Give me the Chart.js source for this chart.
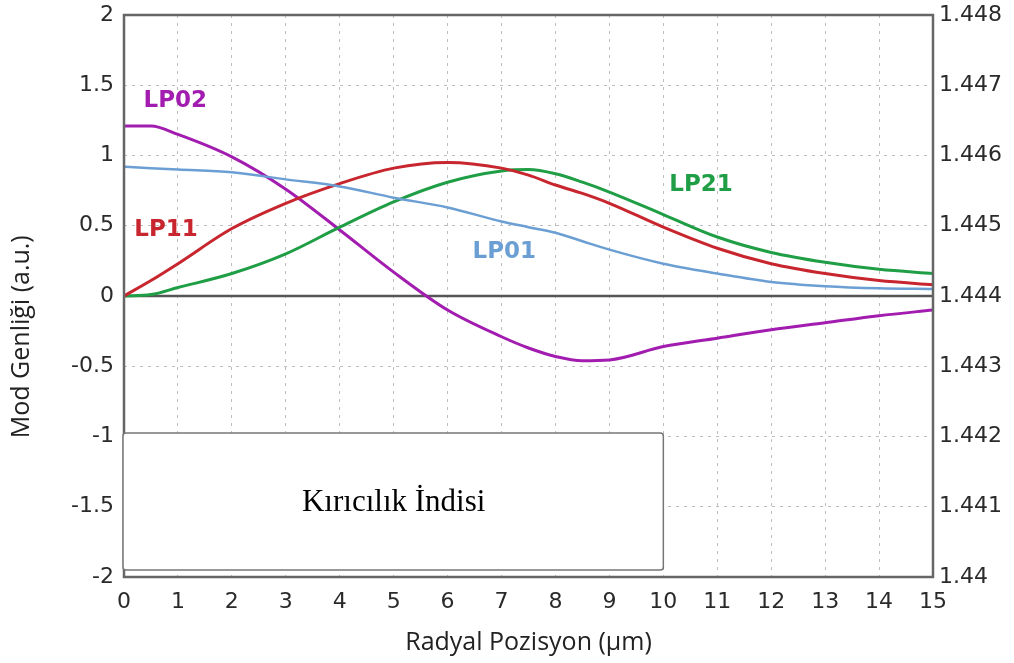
<!DOCTYPE html>
<html>
<head>
<meta charset="utf-8">
<script src="https://cdn.jsdelivr.net/npm/chart.js@4/dist/chart.umd.min.js"></script>
<style>
  html, body { margin: 0; padding: 0; background: #fff; }
  #wrap { width: 1014px; height: 663px; }
</style>
</head>
<body>
<div id="wrap"><canvas id="modeChart" width="1014" height="663"></canvas></div>
<script>
// ================= DATA =================
const radialPos = [0, 0.5, 1, 2, 3, 4, 5, 6, 7, 7.5, 8, 8.5, 9, 10, 11, 12, 13, 14, 15];
const lp01 = [0.92, 0.91, 0.90, 0.88, 0.83, 0.78, 0.70, 0.63, 0.53, 0.49, 0.45, 0.39, 0.33, 0.23, 0.16, 0.10, 0.07, 0.055, 0.05];
const lp11 = [0, 0.11, 0.23, 0.48, 0.66, 0.80, 0.91, 0.95, 0.91, 0.86, 0.79, 0.73, 0.66, 0.49, 0.34, 0.23, 0.16, 0.11, 0.08];
const lp21 = [0, 0.01, 0.06, 0.16, 0.30, 0.49, 0.67, 0.81, 0.89, 0.90, 0.87, 0.81, 0.74, 0.58, 0.42, 0.31, 0.24, 0.19, 0.16];
const lp02 = [1.21, 1.21, 1.15, 0.99, 0.76, 0.47, 0.17, -0.10, -0.29, -0.37, -0.43, -0.46, -0.455, -0.36, -0.30, -0.24, -0.19, -0.14, -0.10];

const seriesNames = ["LP01", "LP11", "LP21", "LP02"];
const seriesColors = ["#6b9fd4", "#c8262e", "#1f9e45", "#a21cb0"];
// label anchor points in data units (x, y)
const labelX = [7.05, 0.78, 10.7, 0.95];
const labelY = [0.31, 0.47, 0.79, 1.39];

const indexTicks = [1.44, 1.441, 1.442, 1.443, 1.444, 1.445, 1.446, 1.447, 1.448];

// ================= HELPERS =================
function toPoints(values) {
  return values.map((v, i) => ({ x: radialPos[i], y: v }));
}

const allSeries = [lp01, lp11, lp21, lp02];

// ================= PLUGIN: frame, zero line, labels, box =================
const decorPlugin = {
  id: "decor",
  beforeDatasetsDraw(chart) {
    const { ctx, chartArea, scales } = chart;
    const y0 = scales.y.getPixelForValue(0);
    ctx.save();
    ctx.strokeStyle = "#555";
    ctx.lineWidth = 2.5;
    ctx.beginPath();
    ctx.moveTo(chartArea.left, y0);
    ctx.lineTo(chartArea.right, y0);
    ctx.stroke();
    ctx.restore();
  },
  afterDatasetsDraw(chart) {
    const { ctx, chartArea, scales } = chart;
    ctx.save();
    // frame
    ctx.strokeStyle = "#666";
    ctx.lineWidth = 2.5;
    ctx.strokeRect(chartArea.left, chartArea.top, chartArea.right - chartArea.left, chartArea.bottom - chartArea.top);

    // series labels
    ctx.font = "bold 23px 'DejaVu Sans'";
    ctx.textAlign = "center";
    ctx.textBaseline = "middle";
    seriesNames.forEach((name, i) => {
      ctx.fillStyle = seriesColors[i];
      ctx.fillText(name, scales.x.getPixelForValue(labelX[i]), scales.y.getPixelForValue(labelY[i]));
    });

    // refractive index box
    const bx1 = scales.x.getPixelForValue(0) - 1;
    const bx2 = scales.x.getPixelForValue(10);
    const by1 = scales.y.getPixelForValue(-0.975);
    const by2 = scales.y.getPixelForValue(-1.95);
    ctx.fillStyle = "#fff";
    ctx.strokeStyle = "#777";
    ctx.lineWidth = 1.5;
    ctx.beginPath();
    ctx.roundRect(bx1, by1, bx2 - bx1, by2 - by1, 3);
    ctx.fill();
    ctx.stroke();
    ctx.fillStyle = "#000";
    ctx.font = "31px 'Liberation Serif'";
    ctx.fillText("Kırıcılık İndisi", scales.x.getPixelForValue(5), scales.y.getPixelForValue(-1.47));

    // left axis title, sits a bit below the middle in the original
    ctx.translate(22, scales.y.getPixelForValue(-0.29));
    ctx.rotate(-Math.PI / 2);
    ctx.fillStyle = "#222";
    ctx.font = "25px 'Open Sans'";
    ctx.fillText("Mod Genliği (a.u.)", 0, 0);
    ctx.restore();
  }
};

// ================= CHART =================
const tickFont = { family: "'DejaVu Sans'", size: 22 };
const titleFont = { family: "'Open Sans'", size: 25 };
const gridOpts = { color: "#bdbdbd", drawTicks: false, lineWidth: 1 };

new Chart(document.getElementById("modeChart"), {
  type: "line",
  data: {
    datasets: allSeries.map((vals, i) => ({
      label: seriesNames[i],
      data: toPoints(vals),
      borderColor: seriesColors[i],
      borderWidth: i === 0 ? 2.5 : 3,
      pointRadius: 0,
      fill: false,
      cubicInterpolationMode: "monotone"
    }))
  },
  options: {
    responsive: false,
    animation: false,
    layout: { padding: { top: 15, left: 0, right: 0, bottom: 0 } },
    plugins: { legend: { display: false }, tooltip: { enabled: false } },
    scales: {
      x: {
        type: "linear",
        min: 0,
        max: 15,
        ticks: { stepSize: 1, color: "#2a2a2a", font: tickFont, padding: 12, maxRotation: 0 },
        grid: gridOpts,
        border: { display: false, dash: [3, 5] },
        title: {
          display: true,
          text: "Radyal Pozisyon (µm)",
          color: "#222",
          font: titleFont,
          padding: { top: 2, bottom: 5 }
        },
        afterFit(scale) {
          scale.height = 86;
          scale.paddingLeft = 0;
          scale.paddingRight = 0;
        }
      },
      y: {
        position: "left",
        min: -2,
        max: 2,
        ticks: {
          stepSize: 0.5,
          color: "#2a2a2a",
          font: tickFont,
          padding: 10,
          callback: v => String(v)
        },
        grid: gridOpts,
        border: { display: false, dash: [3, 5] },
        afterFit(scale) {
          scale.width = 124;
          scale.paddingTop = 0;
          scale.paddingBottom = 0;
        }
      },
      y2: {
        position: "right",
        min: indexTicks[0],
        max: indexTicks[indexTicks.length - 1],
        afterBuildTicks(scale) { scale.ticks = indexTicks.map(v => ({ value: v })); },
        ticks: {
          color: "#2a2a2a",
          font: tickFont,
          padding: 6,
          callback: v => String(Number(v.toFixed(3)))
        },
        grid: { display: false, drawTicks: false },
        border: { display: false },
        afterFit(scale) {
          scale.width = 81;
          scale.paddingTop = 0;
          scale.paddingBottom = 0;
        }
      }
    }
  },
  plugins: [decorPlugin]
});
</script>
</body>
</html>
